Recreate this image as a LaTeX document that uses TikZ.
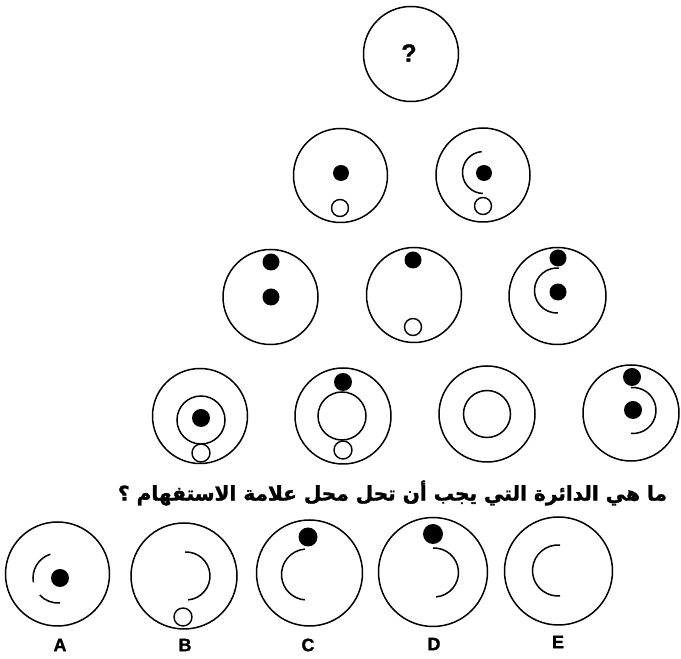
\documentclass[tikz,border=0pt]{standalone}
\usepackage{fontspec}
\usepackage{graphicx}
\TeXXeTstate=1
\newfontfamily\arabicfont[Script=Arabic,BoldFeatures={FakeBold=1.6}]{DejaVu Sans}
\newfontfamily\labfont[BoldFeatures={FakeBold=1.2}]{Liberation Sans}
\begin{document}
\begin{tikzpicture}[x=1pt,y=1pt,
  ring/.style={circle,draw,line width=1.5pt,inner sep=0pt},
  blackdot/.style={circle,fill=black,inner sep=0pt},
  whitedot/.style={circle,draw,line width=1.4pt,fill=white,inner sep=0pt},
  curl/.style={line width=1.5pt},
  lab/.style={font=\labfont\bfseries\fontsize{18}{18}\selectfont}]
\useasboundingbox (0,0) rectangle (681,659);
% top
\node[ring,minimum size=95pt] (t) at (411,605) {};
\node[font=\labfont\bfseries\fontsize{25}{25}\selectfont] (qm) at (409,606) {?};
% row 2
\node[ring,minimum size=94pt] (r21) at (340.5,483.5) {};
\node[blackdot,minimum size=16pt] (r21b) at (341,486) {};
\node[whitedot,minimum size=17pt] (r21w) at (340,451) {};
\node[ring,minimum size=94pt] (r22) at (483,484) {};
\node[blackdot,minimum size=16pt] (r22b) at (484,486) {};
\node[whitedot,minimum size=17pt] (r22w) at (483,453) {};
\draw[curl] (483.5,486.5) ++(95:21) arc[start angle=95,end angle=268,radius=21];
% row 3
\node[ring,minimum size=95pt] (r31) at (270.5,362) {};
\node[blackdot,minimum size=17pt] (r31a) at (271,397) {};
\node[blackdot,minimum size=17pt] (r31b) at (271,362) {};
\node[ring,minimum size=95pt] (r32) at (414,364) {};
\node[blackdot,minimum size=17pt] (r32b) at (413,399) {};
\node[whitedot,minimum size=17pt] (r32w) at (413,332) {};
\node[ring,minimum size=97pt] (r33) at (557.5,363) {};
\node[blackdot,minimum size=17pt] (r33a) at (558,401) {};
\node[blackdot,minimum size=17pt] (r33b) at (558,367) {};
\draw[curl] (557,368.5) ++(85:22.5) arc[start angle=85,end angle=272,radius=22.5];
% row 4
\node[ring,minimum size=95pt] (r41) at (200,243) {};
\node[ring,minimum size=48pt] (r41i) at (201,239) {};
\node[blackdot,minimum size=18pt] (r41b) at (201,241) {};
\node[whitedot,minimum size=18pt] (r41w) at (201,206) {};
\node[ring,minimum size=96pt] (r42) at (343,243) {};
\node[ring,minimum size=48pt] (r42i) at (342,243) {};
\node[blackdot,minimum size=18pt] (r42b) at (343,277) {};
\node[whitedot,minimum size=18pt] (r42w) at (343,209) {};
\node[ring,minimum size=96pt] (r43) at (487,245) {};
\node[ring,minimum size=47pt] (r43i) at (487,245) {};
\node[ring,minimum size=96pt] (r44) at (631,246) {};
\node[blackdot,minimum size=18pt] (r44a) at (632,282) {};
\node[blackdot,minimum size=18pt] (r44b) at (633,249) {};
\draw[curl] (633,248.5) ++(-95:23) arc[start angle=-95,end angle=95,radius=23];
% question
\node[inner sep=0pt] (q) at (392.5,166) {\resizebox{549pt}{!}{\arabicfont\bfseries\beginR ما هي الدائرة التي يجب أن تحل محل علامة الاستفهام ؟\endR}};
% options
\node[ring,minimum size=104pt] (oa) at (57.5,85) {};
\node[blackdot,minimum size=18pt] (oab) at (60,81) {};
\draw[curl] (58,81) ++(108:25) arc[start angle=108,end angle=190,radius=25];
\draw[curl] (58,81) ++(223:25) arc[start angle=223,end angle=275,radius=25];
\node[ring,minimum size=106pt] (ob) at (184,83) {};
\draw[curl] (186,83) ++(-85:24) arc[start angle=-85,end angle=92,radius=24];
\node[whitedot,minimum size=18pt] (obw) at (183,42) {};
\node[ring,minimum size=106pt] (oc) at (309.5,86) {};
\node[blackdot,minimum size=19pt] (ocb) at (308,122) {};
\draw[curl] (307,84.5) ++(95:25.5) arc[start angle=95,end angle=265,radius=25.5];
\node[ring,minimum size=109pt] (od) at (433,87) {};
\node[blackdot,minimum size=20pt] (odb) at (433,125) {};
\draw[curl] (434,86.5) ++(-85:24.5) arc[start angle=-85,end angle=92,radius=24.5];
\node[ring,minimum size=108pt] (oe) at (558.5,88) {};
\draw[curl] (558,88.5) ++(85:25.5) arc[start angle=85,end angle=275,radius=25.5];
\node[lab] (la) at (60,14) {A};
\node[lab] (lb) at (185,14) {B};
\node[lab] (lc) at (308,14) {C};
\node[lab] (ld) at (434,15) {D};
\node[lab] (le) at (558,17) {E};
\end{tikzpicture}
\end{document}
